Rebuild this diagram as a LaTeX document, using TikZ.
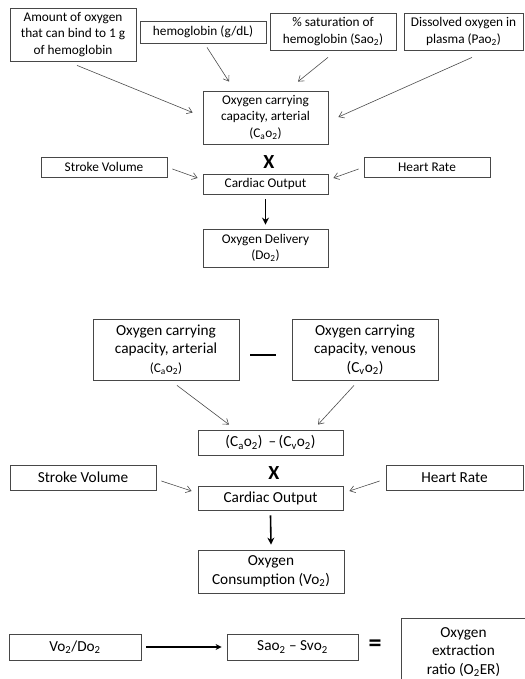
\documentclass[tikz,border=0pt]{standalone}
\usepackage{fontspec}
\setmainfont{Carlito}
\usetikzlibrary{arrows.meta,calc}
\newcommand{\sbs}[1]{\textsubscript{#1}}
\begin{document}
\begin{tikzpicture}[x=1pt,y=-1pt,
  box/.style={draw=black!72,line width=0.8pt,inner sep=0pt,align=center,text=black},
  small/.style={font=\fontsize{13.3}{16.3}\selectfont},
  big/.style={font=\fontsize{15.3}{18.5}\selectfont},
  thinarr/.style={draw=black!70,line width=0.6pt,-{Straight Barb[length=5pt,width=7pt]}},
  thickarr/.style={draw=black,line width=1.6pt,-{Stealth[length=7pt,width=7pt]}},
  opsym/.style={inner sep=0pt,font=\fontsize{20}{20}\selectfont\bfseries}]
\useasboundingbox (0,0) rectangle (524,679);
% ---------- top ----------
\node[box,small,minimum width=126pt,minimum height=53pt] (a1) at (73,34.5) {Amount of oxygen\\that can bind to 1 g\\of hemoglobin};
\node[box,small,minimum width=126pt,minimum height=22pt] (a2) at (203,32) {hemoglobin (g/dL)};
\node[box,small,minimum width=126pt,minimum height=37pt] (a3) at (333,31.5) {\% saturation of\\hemoglobin (Sao\sbs{2})};
\node[box,small,minimum width=119pt,minimum height=37pt] (a4) at (463.5,31.5) {Dissolved oxygen in\\plasma (Pao\sbs{2})};
\node[box,small,minimum width=125pt,minimum height=53pt] (cao) at (265.5,117.5) {Oxygen carrying\\capacity, arterial\\(C\sbs{a}o\sbs{2})};
\node[opsym] (x1) at (269,162) {X};
\node[box,small,minimum width=126pt,minimum height=20pt] (sv1) at (104,167) {Stroke Volume};
\node[box,small,minimum width=126pt,minimum height=20pt] (hr1) at (427,167) {Heart Rate};
\node[box,small,minimum width=125pt,minimum height=20pt] (co1) at (265.5,184) {Cardiac Output};
\node[box,small,minimum width=125pt,minimum height=38pt] (do) at (265.5,248) {Oxygen Delivery\\(Do\sbs{2})};
\draw[thinarr] ($(a1.south)+(4,4)$) -- ($(cao.west)+(-10,-5)$);
\draw[thinarr] ($(a2.south)+(4,4)$) -- ($(cao.north)+(-36.5,-9)$);
\draw[thinarr] ($(a3.south)+(-5,7)$) -- ($(cao.north)+(32.5,-9)$);
\draw[thinarr] ($(a4.south)+(8.5,7)$) -- ($(cao.east)+(10,-0.5)$);
\draw[thinarr] ($(sv1.east)+(5,2)$) -- ($(co1.west)+(-5,-6)$);
\draw[thinarr] ($(hr1.west)+(-5,2)$) -- ($(co1.east)+(5,-6)$);
\draw[thickarr] ($(co1.south)+(0,5)$) -- ($(do.north)+(0,-4)$);
% ---------- middle ----------
\node[box,big,minimum width=146pt,minimum height=61pt] (cao2) at (166,349.5) {Oxygen carrying\\capacity, arterial\\{\fontsize{13.3}{16}\selectfont(C\sbs{a}o\sbs{2})}};
\node[inner sep=0pt] (minus) at (263,355) {\rule{26pt}{1.8pt}};
\node[box,big,minimum width=146pt,minimum height=61pt] (cvo2) at (365,349.5) {Oxygen carrying\\capacity, venous\\(C\sbs{v}o\sbs{2})};
\node[box,big,minimum width=145pt,minimum height=25pt] (diff) at (270.5,442.5) {(C\sbs{a}o\sbs{2}) \,--\,(C\sbs{v}o\sbs{2})};
\node[opsym] (x2) at (274,473) {X};
\node[box,big,minimum width=146pt,minimum height=25pt] (sv2) at (83,477.5) {Stroke Volume};
\node[box,big,minimum width=137pt,minimum height=25pt] (hr2) at (454.5,477.5) {Heart Rate};
\node[box,big,minimum width=145pt,minimum height=24pt] (co2) at (270.5,498) {Cardiac Output};
\node[box,big,minimum width=146pt,minimum height=43pt] (cons) at (271,571.5) {Oxygen\\Consumption (Vo\sbs{2})};
\draw[thinarr] ($(cao2.south)+(11,5)$) -- ($(diff.north)+(-41.5,-5)$);
\draw[thinarr] ($(cvo2.south)+(-11,5)$) -- ($(diff.north)+(47.5,-5)$);
\draw[thinarr] ($(sv2.east)+(5,3.5)$) -- ($(co2.west)+(-6,-7)$);
\draw[thinarr] ($(hr2.west)+(-6,3.5)$) -- ($(co2.east)+(6,-7)$);
\draw[thickarr] ($(co2.south)+(0,5)$) -- ($(cons.north)+(0,-5)$);
% ---------- bottom ----------
\node[box,big,minimum width=132pt,minimum height=26pt] (vd) at (75,647) {Vo\sbs{2}/Do\sbs{2}};
\node[box,big,minimum width=131pt,minimum height=26pt] (ss) at (292.5,647) {Sao\sbs{2} -- Svo\sbs{2}};
\node[inner sep=0pt,font=\fontsize{26}{26}\selectfont\bfseries] (eq) at (375,646) {=};
\node[box,big,minimum width=125pt,minimum height=68pt] (o2er) at (463.5,652) {Oxygen\\extraction\\ratio (O\sbs{2}ER)};
\draw[thickarr,line width=1.8pt,-{Stealth[length=6pt,width=6pt]}] ($(vd.east)+(5,0)$) -- ($(ss.west)+(-5,0)$);
\end{tikzpicture}
\end{document}
